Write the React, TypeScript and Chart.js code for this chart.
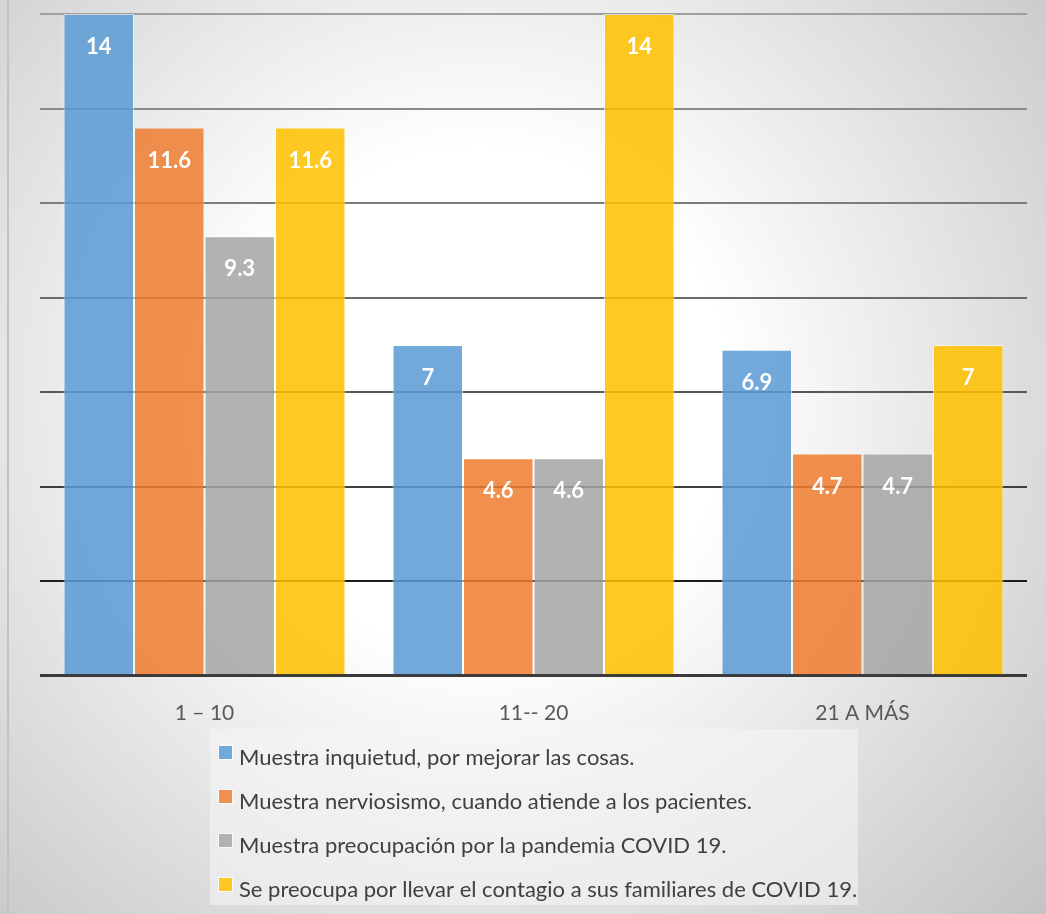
import React, { useEffect, useRef } from "react";
import { Chart, registerables } from "chart.js";

Chart.register(...registerables);

const categories = ["1 – 10", "11-- 20", "21 A MÁS"];
const seriesNames = [
  "Muestra inquietud, por mejorar las cosas.",
  "Muestra nerviosismo, cuando atiende a los pacientes.",
  "Muestra preocupación por la pandemia COVID 19.",
  "Se preocupa por llevar el contagio a sus familiares de COVID 19.",
];
const inquietud = [14, 7, 6.9];
const nerviosismo = [11.6, 4.6, 4.7];
const preocupacion = [9.3, 4.6, 4.7];
const contagio = [11.6, 14, 7];
const seriesColors = [
  "rgba(91,155,213,0.86)",
  "rgba(237,125,49,0.86)",
  "rgba(165,165,165,0.86)",
  "rgba(255,192,0,0.86)",
];
const yMax = 14;
const yStep = 2;
const gridColors = ["#3a3a3a", "#1c1c1c", "#3e3e3e", "#585858", "#6a6a6a", "#7c7c7c", "#8a8a8a", "#a0a0a0"];

const FONT = "Lato, 'Open Sans', sans-serif";

const bgPlugin = {
  id: "bgPlugin",
  beforeDraw(chart: any) {
    const { ctx, width, height } = chart;
    ctx.save();
    const g = ctx.createRadialGradient(480, 400, 0, 480, 400, 760);
    g.addColorStop(0, "#ffffff");
    g.addColorStop(0.33, "#ffffff");
    g.addColorStop(1, "#c4c4c4");
    ctx.fillStyle = g;
    ctx.fillRect(0, 0, width, height);
    ctx.fillStyle = "#c2c2c2";
    ctx.fillRect(7, 0, 2, height);
    ctx.restore();
  },
};

const labelPlugin = {
  id: "labelPlugin",
  afterDatasetsDraw(chart: any) {
    const { ctx } = chart;
    ctx.save();
    ctx.fillStyle = "#ffffff";
    ctx.font = `bold 22px ${FONT}`;
    ctx.textAlign = "center";
    ctx.textBaseline = "middle";
    chart.data.datasets.forEach((ds: any, i: number) => {
      const meta = chart.getDatasetMeta(i);
      meta.data.forEach((bar: any, j: number) => {
        ctx.fillText(String(ds.data[j]), bar.x, bar.y + 33);
      });
    });
    ctx.restore();
  },
};

const legendPlugin = {
  id: "legendPlugin",
  afterDraw(chart: any) {
    const { ctx } = chart;
    ctx.save();
    const bx = 210, by = 729, bw = 648, bh = 176;
    ctx.fillStyle = "rgba(245,245,245,0.55)";
    ctx.fillRect(bx, by, bw, bh);
    ctx.font = `22px ${FONT}`;
    ctx.textAlign = "left";
    ctx.textBaseline = "middle";
    chart.data.datasets.forEach((ds: any, i: number) => {
      const cy = 757 + i * 44;
      ctx.fillStyle = "rgba(255,255,255,0.7)";
      ctx.fillRect(218, cy - 12, 15, 15);
      ctx.fillStyle = ds.backgroundColor;
      ctx.fillRect(219, cy - 11, 13, 13);
      ctx.fillStyle = "#404040";
      ctx.fillText(ds.label, 239, cy + 1);
    });
    ctx.restore();
  },
};

export default function App() {
  const ref = useRef<HTMLCanvasElement>(null);
  useEffect(() => {
    if (!ref.current) return;
    const values = [inquietud, nerviosismo, preocupacion, contagio];
    const chart = new Chart(ref.current, {
      type: "bar",
      data: {
        labels: categories,
        datasets: values.map((d, i) => ({
          label: seriesNames[i],
          data: d,
          backgroundColor: seriesColors[i],
          borderColor: "rgba(255,255,255,0.55)",
          borderWidth: 1,
          categoryPercentage: 0.857,
          barPercentage: 1,
        })),
      },
      options: {
        responsive: false,
        animation: false,
        devicePixelRatio: 1,
        layout: { padding: { left: 40, right: 19, top: 14, bottom: 163 } },
        plugins: { legend: { display: false }, tooltip: { enabled: false } },
        scales: {
          x: {
            grid: { display: false, drawTicks: false },
            border: { display: false },
            ticks: { color: "#595959", font: { family: FONT, size: 21 }, padding: 25 },
          },
          y: {
            min: 0,
            max: yMax,
            ticks: { display: false, stepSize: yStep },
            border: { display: false },
            grid: {
              drawTicks: false,
              color: (c: any) => gridColors[Math.round(c.tick.value / yStep)] || "#888",
              lineWidth: (c: any) => (c.tick.value === 0 ? 3 : 2),
            },
          },
        },
      },
      plugins: [bgPlugin, labelPlugin, legendPlugin],
    });
    return () => chart.destroy();
  }, []);
  return (
    <div style={{ position: "absolute", left: 0, top: 0, width: 1046, height: 914 }}>
      <canvas ref={ref} width={1046} height={914} />
    </div>
  );
}
